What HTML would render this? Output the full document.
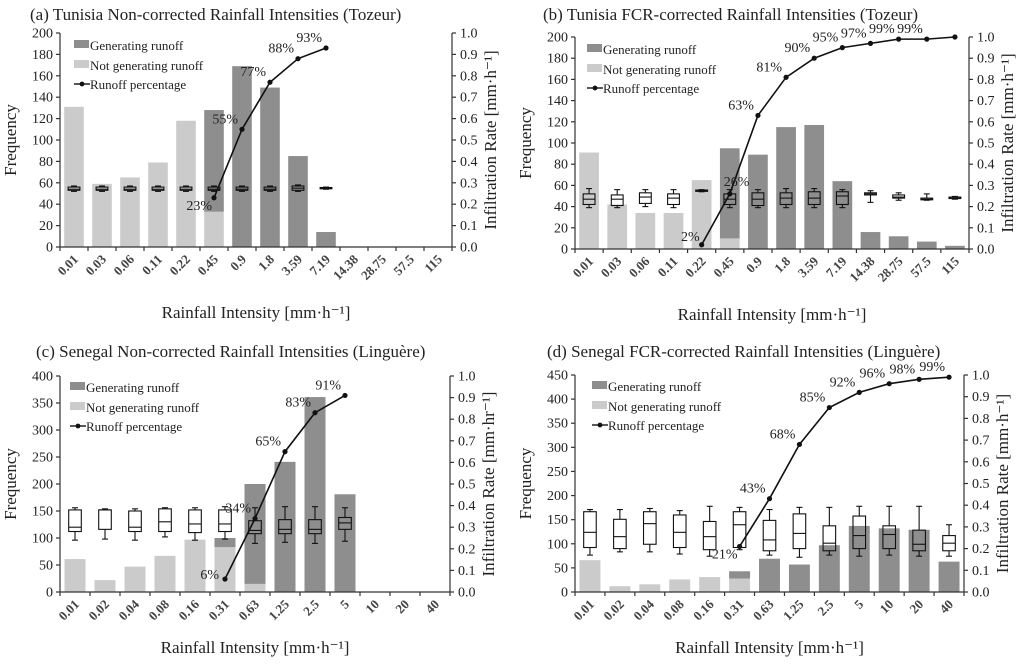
<!DOCTYPE html>
<html><head><meta charset="utf-8"><style>
body{margin:0;background:#fff}
svg{display:block;font-family:"Liberation Serif",serif}
</style></head><body>
<svg id="root" width="1024" height="664" viewBox="0 0 1024 664"></svg>
<script>
const catsT = ["0.01","0.03","0.06","0.11","0.22","0.45","0.9","1.8","3.59","7.19","14.38","28.75","57.5","115"];
const catsS = ["0.01","0.02","0.04","0.08","0.16","0.31","0.63","1.25","2.5","5","10","20","40"];

const aLight = [131,59,65,79,118,33,0,0,0,0,0,0,0,0];
const aDark  = [0,0,0,0,0,95,169,149,85,14,0,0,0,0];
const aPct   = [null,null,null,null,null,0.23,0.55,0.77,0.88,0.93,null,null,null,null];
const aBox   = [[.26,.265,.27,.28,.285],[.26,.265,.27,.28,.285],[.26,.265,.27,.28,.285],[.26,.265,.27,.28,.285],[.26,.265,.27,.28,.285],[.26,.265,.27,.28,.285],[.26,.265,.27,.28,.285],[.26,.265,.27,.28,.285],[.26,.265,.275,.285,.29],[.27,.272,.275,.278,.28],null,null,null,null];

const bLight = [91,42,34,34,65,10,0,0,0,0,0,0,0,0];
const bDark  = [0,0,0,0,0,85,89,115,117,64,16,12,7,3];
const bPct   = [null,null,null,null,0.02,0.26,0.63,0.81,0.90,0.95,0.97,0.99,0.99,1.0];
const bPctLbl= ["","","","","2%","26%","63%","81%","90%","95%","97%","99%","99%",""];
const bBox   = [[.195,.21,.235,.26,.285],[.195,.205,.235,.255,.28],[.2,.215,.245,.265,.28],[.195,.21,.24,.26,.28],[.27,.272,.275,.278,.28],[.195,.21,.235,.26,.28],[.195,.205,.235,.265,.28],[.195,.21,.24,.265,.285],[.195,.21,.24,.27,.285],[.195,.21,.25,.27,.28],[.22,.255,.26,.265,.275],[.23,.24,.245,.255,.265],[.23,.232,.235,.24,.26],[.235,.238,.24,.245,.248]];

const cLight = [61,22,47,67,97,83,15,0,0,0,0,0,0];
const cDark  = [0,0,0,0,0,17,185,241,361,181,0,0,0];
const cPct   = [null,null,null,null,null,0.06,0.34,0.65,0.83,0.91,null,null,null];
const cBox   = [[.24,.28,.30,.38,.39],[.245,.29,.38,.38,.385],[.24,.28,.30,.375,.385],[.255,.28,.325,.385,.39],[.24,.275,.315,.38,.39],[.245,.28,.315,.38,.395],[.225,.27,.285,.33,.39],[.23,.27,.29,.335,.395],[.225,.27,.29,.335,.395],[.235,.29,.32,.345,.39],null,null,null];

const dLight = [66,12,16,26,31,28,0,0,0,0,0,0,0];
const dDark  = [0,0,0,0,0,15,69,57,97,137,132,129,63];
const dPct   = [null,null,null,null,null,0.21,0.43,0.68,0.85,0.92,0.96,0.98,0.99];
const dBox   = [[.17,.205,.275,.37,.38],[.185,.2,.255,.335,.38],[.185,.22,.315,.37,.385],[.175,.205,.275,.355,.375],[.165,.195,.255,.325,.395],[.195,.205,.31,.37,.39],[.17,.19,.24,.33,.38],[.16,.2,.27,.36,.39],[.17,.19,.225,.305,.39],[.165,.2,.26,.35,.395],[.17,.2,.265,.305,.395],[.165,.19,.22,.285,.395],[.165,.19,.225,.26,.31]];

const NS="http://www.w3.org/2000/svg";
const root=document.getElementById('root');
function mk(tag,attrs,parent,text){const e=document.createElementNS(NS,tag);for(const k in attrs)e.setAttribute(k,attrs[k]);if(text!==undefined)e.textContent=text;(parent||root).appendChild(e);return e;}

const panels=[
 {id:'a',title:"(a) Tunisia Non-corrected Rainfall Intensities (Tozeur)",tx:30,ty:20,L:60,R:452,T:33,B:247,max:200,step:20,cats:catsT,light:aLight,dark:aDark,pct:aPct,lbl:null,box:aBox,lg:[74,40],unit:"[mm·h⁻¹]",xo:71},
 {id:'b',title:"(b) Tunisia FCR-corrected Rainfall Intensities (Tozeur)",tx:543,ty:20,L:575,R:969,T:37,B:249,max:200,step:20,cats:catsT,light:bLight,dark:bDark,pct:bPct,lbl:bPctLbl,box:bBox,lg:[587,44],unit:"[mm·h⁻¹]",xo:71},
 {id:'c',title:"(c) Senegal Non-corrected Rainfall Intensities (Linguère)",tx:36,ty:357,L:60,R:450,T:376,B:592,max:400,step:50,cats:catsS,light:cLight,dark:cDark,pct:cPct,lbl:null,box:cBox,lg:[70,382],unit:"[mm·hr⁻¹]",xo:61},
 {id:'d',title:"(d) Senegal FCR-corrected Rainfall Intensities (Linguère)",tx:547,ty:357,L:575,R:964,T:375,B:592,max:450,step:50,cats:catsS,light:dLight,dark:dDark,pct:dPct,lbl:null,box:dBox,lg:[592,381],unit:"[mm·h⁻¹]",xo:61}
];

panels.forEach(p=>{
 const g=mk('g',{});
 
 
 const n=p.cats.length, cw=(p.R-p.L)/n;
 const yF=v=>p.B-(v/p.max)*(p.B-p.T);
 const yR=v=>p.B-v*(p.B-p.T);
 const xC=i=>p.L+cw*(i+0.5);
 const t=mk('text',{x:p.tx,y:p.ty,'font-size':17,fill:'#222'},g,p.title);
 
 
 const bw=cw*0.7;
 for(let i=0;i<n;i++){
  const l=p.light[i], d=p.dark[i];
  if(l>0){const r=mk('rect',{x:xC(i)-bw/2,y:yF(l),width:bw,height:p.B-yF(l),fill:'#cbcbcb'},g);
   
   }
  if(d>0){const r=mk('rect',{x:xC(i)-bw/2,y:yF(l+d),width:bw,height:yF(l)-yF(l+d),fill:'#8e8e8e'},g);
   
   }
 }
 const bxw=cw*0.42;
 for(let i=0;i<n;i++){const b=p.box[i]; if(!b)continue;
  const bg=mk('g',{stroke:'#111','stroke-width':1.1,fill:'none'},g);
  
  
  const x=xC(i);
  mk('line',{x1:x,x2:x,y1:yR(b[0]),y2:yR(b[1])},bg);
  mk('line',{x1:x,x2:x,y1:yR(b[3]),y2:yR(b[4])},bg);
  mk('line',{x1:x-3,x2:x+3,y1:yR(b[0]),y2:yR(b[0])},bg);
  mk('line',{x1:x-3,x2:x+3,y1:yR(b[4]),y2:yR(b[4])},bg);
  mk('rect',{x:x-bxw/2,y:yR(b[3]),width:bxw,height:Math.max(1,yR(b[1])-yR(b[3]))},bg);
  mk('line',{x1:x-bxw/2,x2:x+bxw/2,y1:yR(b[2]),y2:yR(b[2])},bg);
 }
 const ax=mk('g',{stroke:'#333','stroke-width':1.2},g);
 
 
 mk('line',{x1:p.L,x2:p.R,y1:p.B,y2:p.B},ax);
 mk('line',{x1:p.L,x2:p.L,y1:p.T,y2:p.B},ax);
 mk('line',{x1:p.R,x2:p.R,y1:p.T,y2:p.B},ax);
 for(let i=0;i<=n;i++){const x=p.L+cw*i;mk('line',{x1:x,x2:x,y1:p.B,y2:p.B+4},ax);}
 for(let v=0;v<=p.max;v+=p.step){const y=yF(v);mk('line',{x1:p.L-4,x2:p.L,y1:y,y2:y},ax);
  const tl=mk('text',{x:p.L-7,y:y+4.5,'text-anchor':'end','font-size':14,fill:'#222',stroke:'none'},g,String(v));
  
  }
 for(let k=0;k<=10;k++){const v=k/10,y=yR(v);mk('line',{x1:p.R,x2:p.R+4,y1:y,y2:y},ax);
  const tl=mk('text',{x:p.R+8,y:y+4.5,'font-size':14,fill:'#222'},g,v.toFixed(1));
  
  }
 for(let i=0;i<n;i++){const x=xC(i)+5,y=p.B+13;
  const tl=mk('text',{x:x,y:y,'text-anchor':'end','font-size':13,'font-weight':'bold',fill:'#444',transform:`rotate(-45 ${x} ${y})`},g,p.cats[i]);
  
  }
 const pts=[];for(let i=0;i<n;i++)if(p.pct[i]!=null)pts.push([xC(i),yR(p.pct[i]),i]);
 const pl=mk('polyline',{points:pts.map(q=>q[0]+','+q[1]).join(' '),fill:'none',stroke:'#111','stroke-width':1.6},g);
 
 
 pts.forEach((q,j)=>{
  const c=mk('circle',{cx:q[0],cy:q[1],r:2.6,fill:'#111'},g);
  
  
  const s=p.lbl?p.lbl[q[2]]:Math.round(p.pct[q[2]]*100)+'%';
  if(!s)return;
  const first=j===0;
  const lt=mk('text',{x:q[0]-(first?2:4),y:q[1]+(first?12:-6),'text-anchor':'end','font-size':14,fill:'#222'},g,s);
  if(first&&p.id==='b'){lt.setAttribute('y',q[1]-4);}
  if(j===1&&p.id==='b'){lt.setAttribute('text-anchor','start');lt.setAttribute('x',q[0]-6);lt.setAttribute('y',q[1]-8);}
  if(first&&p.id==='c'){lt.setAttribute('y',q[1]);lt.setAttribute('x',q[0]-6);}
  
  
 });
 const [lx,ly]=p.lg;
 const lg=mk('g',{},g);
 
 
 mk('rect',{x:lx,y:ly,width:15,height:8,fill:'#8e8e8e'},lg);
 mk('text',{x:lx+16,y:ly+10,'font-size':13,fill:'#222'},lg,'Generating runoff');
 mk('rect',{x:lx,y:ly+20,width:15,height:8,fill:'#cbcbcb'},lg);
 mk('text',{x:lx+16,y:ly+30,'font-size':13,fill:'#222'},lg,'Not generating runoff');
 mk('line',{x1:lx,x2:lx+16,y1:ly+44,y2:ly+44,stroke:'#111','stroke-width':1.4},lg);
 mk('circle',{cx:lx+8,cy:ly+44,r:2.4,fill:'#111'},lg);
 mk('text',{x:lx+16,y:ly+49,'font-size':13,fill:'#222'},lg,'Runoff percentage');
 const cy=(p.T+p.B)/2;
 const yt=mk('text',{x:p.L-44,y:cy,'text-anchor':'middle','font-size':17,fill:'#222',transform:`rotate(-90 ${p.L-44} ${cy})`},g,'Frequency');
 
 
 const rx=p.R+44;
 const rt=mk('text',{x:rx,y:cy,'text-anchor':'middle','font-size':17,fill:'#222',transform:`rotate(-90 ${rx} ${cy})`},g,'Infiltration Rate '+p.unit);
 
 
 const xt=mk('text',{x:(p.L+p.R)/2,y:p.B+p.xo,'text-anchor':'middle','font-size':17,fill:'#222'},g,'Rainfall Intensity [mm·h⁻¹]');
 
 
});
</script>
</body></html>
